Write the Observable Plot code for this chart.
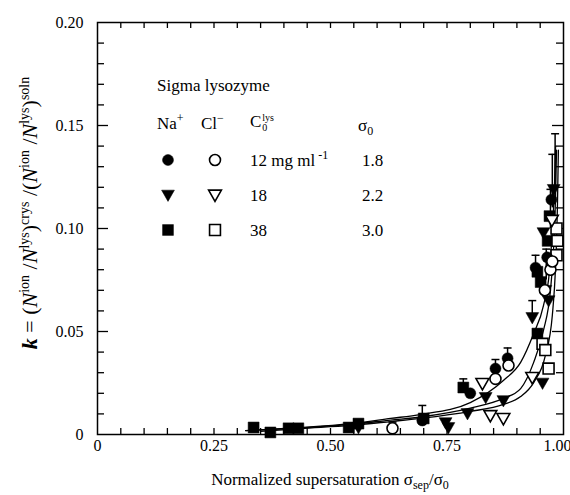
<!DOCTYPE html>
<html><head><meta charset="utf-8">
<script src="https://cdn.jsdelivr.net/npm/d3@7"></script>
<script src="https://cdn.jsdelivr.net/npm/@observablehq/plot@0.6"></script>
<style>
body{margin:0;background:#fff;}
#wrap{position:relative;width:570px;height:495px;font-family:"Liberation Serif","Times New Roman",serif;color:#000;overflow:hidden;}
#wrap > svg{position:absolute;left:0;top:0;overflow:visible;}
.t{position:absolute;white-space:nowrap;font-size:17px;line-height:1;transform:translateY(-50%);}
.t sup,.t sub{font-size:12px;line-height:0;}
.mk{position:absolute;width:16px;height:16px;transform:translate(-50%,-50%);}
.stack{display:inline-flex;flex-direction:column;vertical-align:middle;font-size:10px;line-height:1;margin-left:1px;}
#ylab{position:absolute;left:30px;top:213px;transform:translate(-50%,-50%) rotate(-90deg);white-space:nowrap;font-size:22px;line-height:1;}
#ylab sup{font-size:14px;line-height:0;}
#xlab{position:absolute;left:330px;top:479px;transform:translate(-50%,-50%);white-space:nowrap;font-size:17px;line-height:1;}
#xlab sub{font-size:12px;line-height:0;}
</style></head><body><div id="wrap"></div>
<script>
// ---------- data ----------
// Na+ , C0 = 12 mg/ml (filled circles)
const na12X = [0.697, 0.800, 0.854, 0.880, 0.940, 0.965, 0.974];
const na12Y = [0.0068, 0.020, 0.032, 0.037, 0.081, 0.086, 0.114];
// Cl- , 12 mg/ml (open circles)
const cl12X = [0.633, 0.854, 0.882, 0.960, 0.972, 0.976];
const cl12Y = [0.003, 0.027, 0.0335, 0.070, 0.080, 0.084];
// Na+ , 18 mg/ml (filled down triangles)
const na18X = [0.560, 0.747, 0.753, 0.794, 0.833, 0.871, 0.933, 0.955, 0.957, 0.961, 0.968, 0.979];
const na18Y = [0.0034, 0.0058, 0.0034, 0.0102, 0.018, 0.0165, 0.0568, 0.025, 0.098, 0.070, 0.065, 0.119];
// Cl- , 18 mg/ml (open down triangles)
const cl18X = [0.826, 0.843, 0.871, 0.933, 0.975];
const cl18Y = [0.0248, 0.0092, 0.0078, 0.0277, 0.104];
// Na+ , 38 mg/ml (filled squares)
const na38X = [0.335, 0.371, 0.410, 0.431, 0.539, 0.560, 0.700, 0.785, 0.944, 0.944, 0.951, 0.966, 0.970];
const na38Y = [0.0034, 0.001, 0.003, 0.003, 0.0034, 0.0053, 0.0078, 0.0228, 0.049, 0.079, 0.074, 0.094, 0.106];
// Cl- , 38 mg/ml (open squares)
const cl38X = [0.955, 0.961, 0.968, 0.985, 0.985, 0.987];
const cl38Y = [0.044, 0.041, 0.032, 0.087, 0.100, 0.094];

// error bars (upward)
const errX  = [0.633, 0.697, 0.785, 0.854, 0.880, 0.933, 0.940, 0.963, 0.972, 0.976, 0.982];
const errLo = [0.003, 0.0068, 0.0228, 0.032, 0.037, 0.0568, 0.081, 0.075, 0.100, 0.110, 0.120];
const errHi = [0.0060, 0.0141, 0.027, 0.0364, 0.042, 0.065, 0.087, 0.090, 0.119, 0.136, 0.146];

// fitted curves, points
const curveAX = [0.318, 0.436, 0.543, 0.629, 0.693, 0.800, 0.871, 0.908, 0.936, 0.957, 0.970, 0.976, 0.981, 0.983];
const curveAY = [0.0019, 0.0034, 0.0053, 0.0078, 0.0097, 0.0155, 0.0262, 0.035, 0.049, 0.0626, 0.0796, 0.099, 0.123, 0.140];
const curveBX = [0.318, 0.436, 0.543, 0.629, 0.693, 0.800, 0.871, 0.908, 0.936, 0.957, 0.972, 0.979, 0.983, 0.985];
const curveBY = [0.0019, 0.0032, 0.0049, 0.0070, 0.0085, 0.0128, 0.0175, 0.0223, 0.035, 0.0505, 0.070, 0.0917, 0.116, 0.138];
const curveCX = [0.350, 0.436, 0.543, 0.629, 0.693, 0.800, 0.871, 0.908, 0.936, 0.961, 0.976, 0.983, 0.987, 0.989];
const curveCY = [0.0015, 0.0029, 0.0044, 0.0063, 0.0078, 0.0112, 0.0146, 0.0184, 0.0252, 0.0383, 0.0578, 0.082, 0.111, 0.138];

// ticks
const xLabelTicks = [0, 0.25, 0.50, 0.75];
const xLastTick = [1.00];
const yLabelTicks = [0, 0.05, 0.10, 0.15, 0.20];
const xMinor = [0.05,0.10,0.15,0.20,0.25,0.30,0.35,0.40,0.45,0.50,0.55,0.60,0.65,0.70,0.75,0.80,0.85,0.90,0.95];
const yMinor = [0.01,0.02,0.03,0.04,0.06,0.07,0.08,0.09,0.11,0.12,0.13,0.14,0.16,0.17,0.18,0.19];
const yMajor = [0.05,0.10,0.15];

// ---------- symbols ----------
const triDown = {draw(ctx, size){const s=Math.sqrt(size); ctx.moveTo(-0.66*s,-0.5*s); ctx.lineTo(0.66*s,-0.5*s); ctx.lineTo(0,0.66*s); ctx.closePath();}};
const sq = {draw(ctx, size){const h=Math.sqrt(size)*0.56; ctx.rect(-h,-h,2*h,2*h);}};
const cap = {draw(ctx, size){const w=Math.sqrt(size)*0.5; ctx.moveTo(-w,0); ctx.lineTo(w,0);}};

const zip = (xs, ys) => xs.map((x,i)=>({x, y: ys[i]}));
const W=570, H=495, mL=97, mR=7, mT=22, mB=61;
const pw = W-mL-mR, ph = H-mT-mB;

const series = [
  {d: zip(na38X,na38Y), sym: sq, filled:true},
  {d: zip(cl38X,cl38Y), sym: sq, filled:false},
  {d: zip(na18X,na18Y), sym: triDown, filled:true},
  {d: zip(cl18X,cl18Y), sym: triDown, filled:false},
  {d: zip(na12X,na12Y), sym: d3.symbolCircle, filled:true},
  {d: zip(cl12X,cl12Y), sym: d3.symbolCircle, filled:false},
];
const errs = errX.map((x,i)=>({x, lo: errLo[i], hi: errHi[i]}));

const fmt = d => d===0 ? "0" : d.toFixed(2);
const tk = {stroke:"black", strokeWidth:1.3};

const chart = Plot.plot({
  width: W, height: H, marginLeft: mL, marginRight: mR, marginTop: mT, marginBottom: mB,
  style: {fontFamily: '"Liberation Serif","Times New Roman",serif', fontSize: "16px", color:"black", background:"white"},
  x: {domain:[0,1], axis: null},
  y: {domain:[0,0.2], ticks: yLabelTicks, tickFormat: fmt, tickSize: 0, tickPadding: 14, label: null},
  marks: [
    Plot.tickX(xMinor, {x: d=>d, insetTop: ph-6, ...tk}),
    Plot.tickX(xMinor, {x: d=>d, insetBottom: ph-6, ...tk}),
    Plot.tickY(yMinor, {y: d=>d, insetRight: pw-7, ...tk}),
    Plot.tickY(yMajor, {y: d=>d, insetRight: pw-11, ...tk}),
    Plot.tickY(yMinor, {y: d=>d, insetLeft: pw-7, ...tk}),
    Plot.tickY(yMajor, {y: d=>d, insetLeft: pw-11, ...tk}),
    Plot.text(xLabelTicks, {x: d=>d, text: fmt, frameAnchor: "bottom", dy: 16, fill:"black"}),
    Plot.text(xLastTick, {x: d=>d, text: fmt, frameAnchor: "bottom", dy: 16, dx: -6, fill:"black"}),
    Plot.line(zip(curveAX,curveAY), {x:"x", y:"y", curve:"monotone-x", stroke:"black", strokeWidth:1.3}),
    Plot.line(zip(curveBX,curveBY), {x:"x", y:"y", curve:"monotone-x", stroke:"black", strokeWidth:1.3}),
    Plot.line(zip(curveCX,curveCY), {x:"x", y:"y", curve:"monotone-x", stroke:"black", strokeWidth:1.3}),
    Plot.ruleX(errs, {x:"x", y1:"lo", y2:"hi", stroke:"black", strokeWidth:1.5}),
    Plot.dot(errs, {x:"x", y:"hi", symbol: cap, r:4.5, stroke:"black", strokeWidth:1.5, fill:"none"}),
    ...series.map(s => Plot.dot(s.d, {x:"x", y:"y", symbol: s.sym, r:5.5,
        fill: s.filled ? "black" : "white", stroke:"black", strokeWidth: s.filled ? 0.5 : 1.6})),
    Plot.frame({stroke:"black", strokeWidth:1.5})
  ]
});

const wrap = document.getElementById("wrap");
wrap.appendChild(chart);

// ---------- legend & axis titles (HTML overlay) ----------
function addText(html, left, cy, cls="t"){
  const el = document.createElement("div"); el.className = cls; el.innerHTML = html;
  el.style.left = left+"px"; el.style.top = cy+"px"; wrap.appendChild(el); return el;
}
function addMarker(sym, filled, cx, cy){
  const path = d3.symbol().type(sym).size(Math.PI*30)();
  const el = document.createElement("div"); el.className="mk";
  el.style.left = cx+"px"; el.style.top = cy+"px";
  el.innerHTML = `<svg width="16" height="16" viewBox="-8 -8 16 16"><path d="${path}" fill="${filled?"black":"white"}" stroke="black" stroke-width="${filled?0.5:1.6}"/></svg>`;
  wrap.appendChild(el);
}
const legendTitle = "Sigma lysozyme";
const legendHead = ["Na<sup>+</sup>", "Cl<sup>−</sup>", 'C<span class="stack"><span>lys</span><span>0</span></span>', "σ<sub>0</sub>"];
const legendConc = ["12 mg ml<sup> -1</sup>", "18", "38"];
const legendSigma = ["1.8", "2.2", "3.0"];
const legendSyms = [d3.symbolCircle, triDown, sq];

addText(legendTitle, 157, 85);
addText(legendHead[0], 157, 123);
addText(legendHead[1], 201, 123);
addText(legendHead[2], 250, 123);
addText(legendHead[3], 358, 125);
const rowY = [160, 195, 230];
rowY.forEach((cy,i)=>{
  addMarker(legendSyms[i], true, 168, cy);
  addMarker(legendSyms[i], false, 215, cy);
  addText(legendConc[i], 250, cy);
  addText(legendSigma[i], 362, cy);
});

const yl = document.createElement("div"); yl.id="ylab";
yl.innerHTML = "<i><b>k</b></i> = (<i>N</i><sup>ion</sup> /<i>N</i><sup>lys</sup>)<sup>crys</sup> /(<i>N</i><sup>ion</sup> /<i>N</i><sup>lys</sup>)<sup>soln</sup>";
wrap.appendChild(yl);
const xl = document.createElement("div"); xl.id="xlab";
xl.innerHTML = "Normalized supersaturation σ<sub>sep</sub>/σ<sub>0</sub>";
wrap.appendChild(xl);
</script></body></html>
